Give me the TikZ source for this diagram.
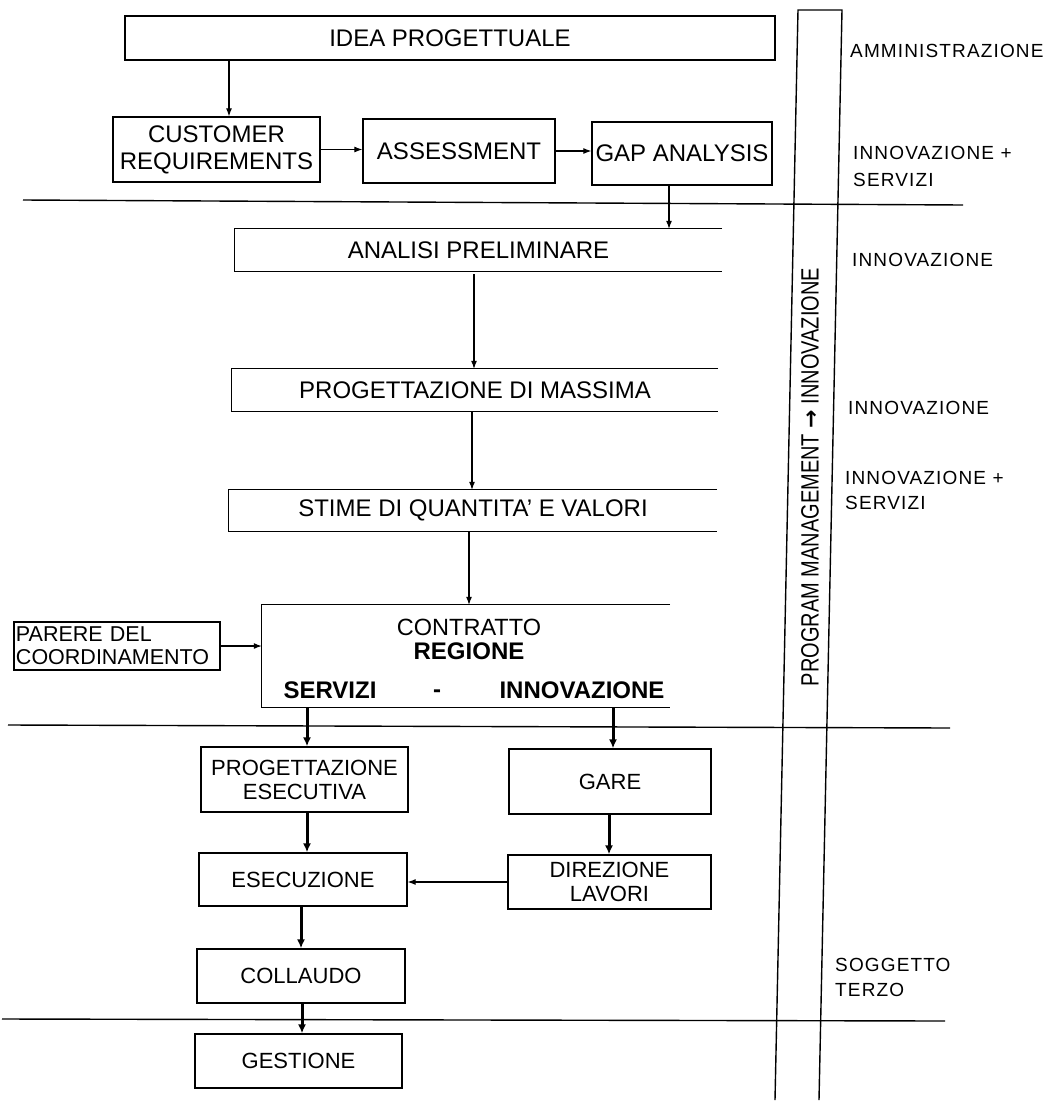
\documentclass[tikz,border=0pt]{standalone}
\usepackage{fontspec}
\setmainfont{Liberation Sans}
\newfontfamily\lblfamily[LetterSpace=6]{Liberation Sans}
\newfontfamily\bandfamily[FakeStretch=0.8]{Liberation Sans}
\newfontfamily\arrowfamily{DejaVu Sans}
\usetikzlibrary{arrows.meta}
\begin{document}
\begin{tikzpicture}[x=1pt,y=-1pt,
  box/.style={draw, line width=1.3pt, inner sep=0pt, align=center, font=\fontsize{22}{26}\selectfont},
  tbox/.style={box, font=\fontsize{24}{27}\selectfont},
  obox/.style={inner sep=0pt, align=center, font=\fontsize{24}{26}\selectfont},
  txt/.style={inner sep=0pt, font=\fontsize{23.5}{26}\selectfont},
  btxt/.style={inner sep=0pt, font=\fontsize{24}{26}\selectfont\bfseries},
  lbl/.style={anchor=west, inner sep=0pt, align=left, font=\lblfamily\fontsize{19}{26}\selectfont},
  arr/.style={-{Latex[length=8pt,width=6pt]}, line width=1.1pt},
  tarr/.style={-{Latex[length=9pt,width=8pt]}, line width=3pt},
  sepline/.style={line width=1.4pt},
  bandline/.style={line width=1.4pt},
  openside/.style={line width=1.3pt}]

\fill[white] (0,0) rectangle (1053,1106);
\useasboundingbox (0,0) rectangle (1053,1106);

% separators
\draw[sepline] (23,200) -- (963,205);
\draw[sepline] (8,725) -- (950,728);
\draw[sepline] (2,1019) -- (945,1021);

% program management band
\coordinate (btl) at (798,10);
\coordinate (btr) at (842,10);
\coordinate (bbl) at (775,1100);
\coordinate (bbr) at (819,1100);
\draw[bandline] (bbl) -- (btl) -- (btr) -- (bbr);
\node[inner sep=0pt, rotate=90, font=\bandfamily\fontsize{25}{25}\selectfont] (band) at (810,477) {PROGRAM MANAGEMENT {\arrowfamily\bfseries\fontsize{22}{22}\selectfont →} INNOVAZIONE};

% closed boxes
\node[tbox, minimum width=650, minimum height=44] (idea) at (450,38) {IDEA PROGETTUALE};
\node[tbox, minimum width=207, minimum height=65] (cust) at (216.5,149.5) {CUSTOMER\\REQUIREMENTS};
\node[tbox, minimum width=192, minimum height=64] (asse) at (459,151) {ASSESSMENT};
\node[tbox, minimum width=180, minimum height=63] (gap) at (682,153.5) {GAP ANALYSIS};
\node[box, minimum width=207, minimum height=65, font=\fontsize{22}{24}\selectfont] (pese) at (304.5,779.5) {PROGETTAZIONE\\ESECUTIVA};
\node[box, minimum width=202, minimum height=65] (gare) at (610,781.5) {GARE};
\node[box, minimum width=208, minimum height=53] (esec) at (303,879.5) {ESECUZIONE};
\node[box, minimum width=203, minimum height=54, font=\fontsize{22}{24}\selectfont] (dire) at (609.5,882) {DIREZIONE\\LAVORI};
\node[box, minimum width=208, minimum height=54] (coll) at (301,976) {COLLAUDO};
\node[box, minimum width=207, minimum height=54] (gest) at (298.5,1061) {GESTIONE};
\node[box, minimum width=206, minimum height=48, align=left, text width=202, font=\fontsize{21.5}{23}\selectfont] (parere) at (117,646) {PARERE DEL\\COORDINAMENTO};

% open-right boxes
\node[obox, minimum width=487, minimum height=42] (anal) at (478.5,250) {ANALISI PRELIMINARE};
\draw[openside] (anal.north east) -- (anal.north west) -- (anal.south west) -- (anal.south east);
\node[obox, minimum width=486, minimum height=42] (pmas) at (475,390) {PROGETTAZIONE DI MASSIMA};
\draw[openside] (pmas.north east) -- (pmas.north west) -- (pmas.south west) -- (pmas.south east);
\node[obox, minimum width=488, minimum height=41] (stim) at (473,510.5) {STIME DI QUANTITA' E VALORI};
\draw[openside] (stim.north east) -- (stim.north west) -- (stim.south west) -- (stim.south east);
\node[obox, minimum width=408, minimum height=102] (contr) at (466,656) {};
\draw[openside] (contr.north east) -- (contr.north west) -- (contr.south west) -- (contr.south east);
\node[txt] (ctit) at (469,627) {CONTRATTO};
\node[btxt] (creg) at (469,651) {REGIONE};
\node[btxt] (cserv) at (330,690) {SERVIZI};
\node[btxt] (cdash) at (437,694) {-};
\node[btxt] (cinno) at (582,690) {INNOVAZIONE};

% right labels
\node[lbl] (l1) at (850,51) {AMMINISTRAZIONE};
\node[lbl, font=\lblfamily\fontsize{19}{27}\selectfont] (l2) at (853,166.5) {INNOVAZIONE +\\SERVIZI};
\node[lbl] (l3) at (852,260) {INNOVAZIONE};
\node[lbl] (l4) at (848,408) {INNOVAZIONE};
\node[lbl, font=\lblfamily\fontsize{19}{25}\selectfont] (l5) at (845,490) {INNOVAZIONE +\\SERVIZI};
\node[lbl, font=\lblfamily\fontsize{19}{25}\selectfont] (l6) at (835,977) {SOGGETTO\\TERZO};

% connector x-positions
\coordinate (xa) at (229,0);
\coordinate (xb) at (669,0);
\coordinate (xc) at (474,0);
\coordinate (xd) at (472,0);
\coordinate (xe) at (469,0);
\coordinate (xf) at (307,0);
\coordinate (xg) at (613,0);
\coordinate (xh) at (609,0);
\coordinate (xi) at (301,0);
\coordinate (xj) at (302,0);

% connectors
\draw[arr] (idea.south -| xa) -- (cust.north -| xa);
\draw[arr] (cust.east) -- (asse.west |- cust.east);
\draw[arr] (asse.east) -- (gap.west |- asse.east);
\draw[arr] (gap.south -| xb) -- (anal.north -| xb);
\draw[arr] ([yshift=-3pt]anal.south -| xc) -- (pmas.north -| xc);
\draw[arr] (pmas.south -| xd) -- (stim.north -| xd);
\draw[arr] (stim.south -| xe) -- (contr.north -| xe);
\draw[arr] (parere.east) -- (contr.west |- parere.east);
\draw[tarr] (contr.south -| xf) -- (pese.north -| xf);
\draw[tarr] (contr.south -| xg) -- (gare.north -| xg);
\draw[tarr] (pese.south -| xf) -- (esec.north -| xf);
\draw[tarr] (gare.south -| xh) -- (dire.north -| xh);
\draw[arr] (dire.west) -- (esec.east |- dire.west);
\draw[tarr] (esec.south -| xi) -- (coll.north -| xi);
\draw[tarr] (coll.south -| xj) -- (gest.north -| xj);

\end{tikzpicture}
\end{document}
